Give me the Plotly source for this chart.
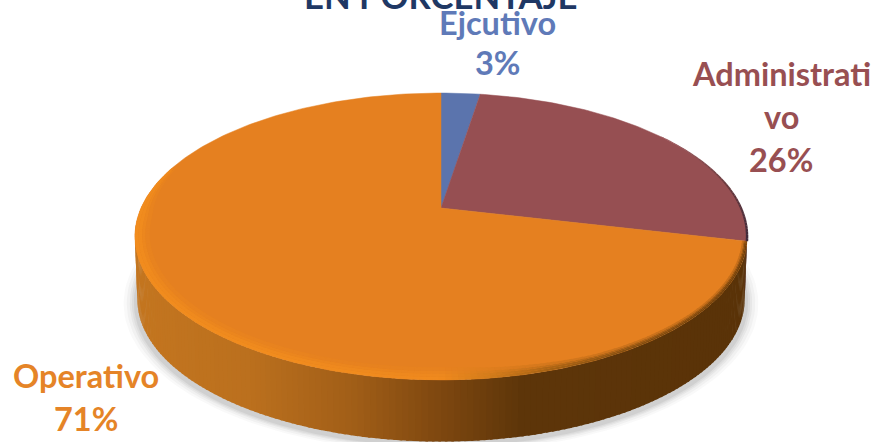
import numpy as np
import plotly.graph_objects as go

# ---- data ----
categories = ["Ejcutivo", "Administrativo", "Operativo"]
values = [2.5, 26.2, 71.3]
label_lines = [["Ejcutivo", "3%"], ["Administrati", "vo", "26%"], ["Operativo", "71%"]]
title_text = "EN PORCENTAJE"

# ---- styles ----
face_colors = ["#5b74ad", "#964f52", "#e58020"]
text_colors = ["#5f7ab8", "#984f52", "#e58427"]
label_pos = [(497, 22, 40), (781, 73, 43), (86, 375, 43)]
W, H = 874, 442
CX, CY = 441, 208       # apex of the pie
A, B, K = 300.0, 137.8, 0.1986   # perspective projection of the disc
DEPTH = 63


def proj(deg, r=1.0, dy=0.0, s=1.0):
    t = np.radians(np.asarray(deg, dtype=float))
    u, v = r * np.sin(t), r * np.cos(t)
    d = 1 + K * v
    return CX + s * A * u / d, CY - s * B * v / d + dy


def hexrgb(c):
    return np.array([int(c[i:i + 2], 16) for i in (1, 3, 5)], dtype=float)


def ramp_rgb(x, stops):
    xs = [p[0] for p in stops]
    cols = np.array([hexrgb(p[1]) for p in stops])
    return np.array([np.interp(x, xs, cols[:, i]) for i in range(3)])


def css(rgb):
    return "rgb(%d,%d,%d)" % tuple(rgb)


def ramp(x, stops):
    return css(ramp_rgb(x, stops))


def poly(x, y, color, line=0.0):
    return go.Scatter(
        x=list(x) + [x[0]], y=list(y) + [y[0]], mode="lines", fill="toself",
        fillcolor=color, line=dict(color=color, width=line), hoverinfo="skip",
        showlegend=False)


fig = go.Figure()

# soft shadow under the disc
full = np.linspace(0, 360, 181)
for grow, alpha in [(11, .03), (8, .04), (5, .05), (3, .06), (1, .08)]:
    sx, sy = proj(full, dy=DEPTH + 3, s=(A + grow) / A)
    fig.add_trace(poly(sx, sy, f"rgba(60,60,60,{alpha})"))

# side wall, coloured strip by strip
side_stops = [(135, "#c47620"), (250, "#bb701e"), (350, "#a25f18"), (437, "#7f4810"),
              (520, "#5e360a"), (747, "#5a3308")]
STEP = 1.0
for a in np.arange(96, 264, STEP):
    a2 = a + STEP + 0.4
    x1, y1 = proj([a, a2])
    x2, y2 = proj([a2, a], dy=DEPTH, s=0.992)
    xs = list(x1) + list(x2)
    ys = list(y1) + list(y2)
    col = ramp(float(np.mean(x1)), side_stops)
    if a < 103:
        col = "#553040"
    fig.add_trace(poly(xs, ys, col))

# top face sectors, computed from the values
start = 0.0
bounds = []
total = sum(values)
for val, col in zip(values, face_colors):
    end = start + val / total * 360
    ang = np.linspace(start, end, max(int(end - start), 4))
    x, y = proj(ang)
    fig.add_trace(go.Scatter(
        x=[CX] + list(x) + [CX], y=[CY] + list(y) + [CY], mode="lines", fill="toself",
        fillcolor=col, line=dict(color=col, width=0.5), hoverinfo="skip", showlegend=False))
    bounds.append((start, end))
    start = end

# bevel on the rim of the large sector: soft steps from the edge inwards
o0, o1 = bounds[2]
base = hexrgb(face_colors[2])
rim_stops = [(135, "#f28d1e"), (300, "#f18c1e"), (440, "#f08a1e"), (490, "#d27c1b"),
             (550, "#a66214"), (620, "#875012"), (747, "#6e3f0c")]
layers = [(0.0, 0.35), (0.35, 0.7), (0.7, 1.0), (1.0, 1.4)]
mix = [1.0, 0.85, 0.55, 0.25]
BSTEP = 1.0
for a in np.arange(o0, 296, BSTEP):
    a2 = a + BSTEP + 0.4
    xm = float(np.mean(proj([a, a2])[0]))
    fade = np.clip((296 - a) / 30, 0, 1)
    w = np.interp(xm, [135, 450, 600, 747], [0.032, 0.042, 0.018, 0.010]) * fade + 0.001
    rim = ramp_rgb(xm, rim_stops)
    for (p, q), m in zip(layers, mix):
        c = base + (rim - base) * m
        x1, y1 = proj([a, a2], r=1 - w * p)
        x2, y2 = proj([a2, a], r=1 - w * q)
        fig.add_trace(poly(list(x1) + list(x2), list(y1) + list(y2), css(c)))

# dark edge on the back right of the red sector
ex, ey = proj(np.linspace(55, bounds[1][1], 40))
for i in range(len(ex) - 1):
    frac = i / (len(ex) - 2)
    fig.add_trace(go.Scatter(
        x=ex[i:i + 2], y=ey[i:i + 2], mode="lines",
        line=dict(color=ramp(frac, [(0, "#a66468"), (.5, "#6a3a3e"), (1, "#3e2a3a")]),
                  width=1 + 1.5 * frac), hoverinfo="skip", showlegend=False))

annotations = [dict(
    x=0.5045, y=1, text=f"<b>{title_text}</b>", showarrow=False, xref="paper", yref="paper",
    xanchor="center", yanchor="middle", yshift=5,
    font=dict(family="Lato", size=34.7, color="#1f3864"))]
for lines, (lx, ly, gap), col in zip(label_lines, label_pos, text_colors):
    for i, line in enumerate(lines):
        annotations.append(dict(
            x=lx, y=ly + i * gap, text=f"<b>{line}</b>", showarrow=False, xref="x", yref="y",
            xanchor="center", yanchor="middle",
            font=dict(family="Lato", size=32.5, color=col)))

fig.update_layout(
    width=W, height=H, margin=dict(l=0, r=0, t=0, b=0),
    paper_bgcolor="white", plot_bgcolor="white", showlegend=False,
    xaxis=dict(range=[0, W], visible=False, fixedrange=True),
    yaxis=dict(range=[H, 0], visible=False, fixedrange=True),
    annotations=annotations)
fig.write_html("out.html", config=dict(displayModeBar=False),
               post_script="document.body.style.margin='0';document.body.style.overflow='hidden';")
